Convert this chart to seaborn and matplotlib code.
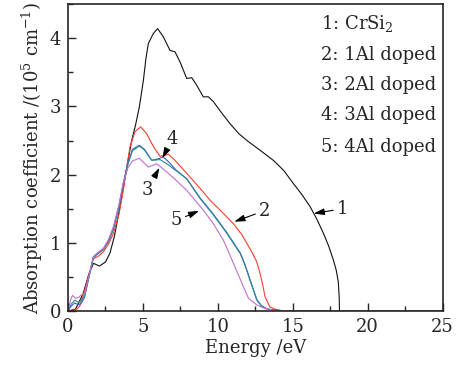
import numpy as np
import pandas as pd
import matplotlib
matplotlib.use("Agg")
import matplotlib.pyplot as plt
import seaborn as sns
from matplotlib.ticker import MultipleLocator

# curve 1: CrSi2
e1 = [0, 0.5, 1.0, 1.4, 1.7, 2.1, 2.5, 2.8, 3.1, 3.4, 3.7, 4.0, 4.25, 4.5, 4.76, 5.03, 5.2, 5.36,
      5.7, 5.98, 6.36, 6.81, 7.14, 7.48, 7.92, 8.26, 8.59, 9.03, 9.37, 9.7, 10.2, 10.8, 11.4,
      12.0, 12.8, 13.7, 14.4, 15.04, 15.6, 16.16, 16.6, 17.05, 17.4, 17.71, 17.9, 18.04, 18.1,
      18.12, 20, 25]
a1 = [0, 0.03, 0.25, 0.55, 0.70, 0.66, 0.72, 0.85, 1.10, 1.45, 1.82, 2.2, 2.50, 2.72, 2.99, 3.38, 3.70, 3.92,
      4.07, 4.14, 4.02, 3.82, 3.80, 3.65, 3.41, 3.42, 3.31, 3.14, 3.14, 3.07, 2.92, 2.75, 2.60,
      2.49, 2.36, 2.21, 2.06, 1.87, 1.71, 1.53, 1.35, 1.14, 0.95, 0.75, 0.60, 0.43, 0.2,
      0, 0, 0]

# curve 2: 1Al doped
e2 = [0, 0.3, 0.6, 0.8, 1.0, 1.3, 1.69, 2.0, 2.36, 2.7, 3.03, 3.4, 3.69, 3.9, 4.14, 4.47, 4.85, 5.25,
      5.70, 6.14, 6.45, 6.70, 7.14, 7.92, 8.81, 9.5, 10.15, 11.04, 11.6, 12.26, 12.6, 12.82, 13.0,
      13.15, 13.48, 13.8, 14.2, 15, 25]
a2 = [0, 0.01, 0.03, 0.08, 0.22, 0.45, 0.77, 0.80, 0.87, 0.98, 1.14, 1.42, 1.77, 2.08, 2.41, 2.63, 2.70, 2.60,
      2.41, 2.27, 2.28, 2.30, 2.21, 2.02, 1.80, 1.62, 1.48, 1.28, 1.12, 0.87, 0.72, 0.55, 0.38,
      0.21, 0.06, 0.03, 0.01, 0, 0]

# curve 3: 2Al doped
e3 = [0, 0.2, 0.45, 0.7, 0.9, 1.1, 1.4, 1.69, 2.0, 2.36, 2.7, 3.03, 3.4, 3.69, 4.0, 4.3, 4.76, 5.1,
      5.59, 6.14, 6.59, 7.2, 7.92, 8.81, 9.7, 10.6, 11.5, 11.8, 12.15, 12.6, 12.9, 13.3, 14.0, 15, 25]
a3 = [0, 0.10, 0.16, 0.13, 0.15, 0.22, 0.50, 0.78, 0.84, 0.90, 1.02, 1.20, 1.52, 1.86, 2.15, 2.35, 2.42, 2.36,
      2.21, 2.22, 2.16, 2.06, 1.94, 1.65, 1.41, 1.14, 0.84, 0.68, 0.45, 0.16, 0.08, 0.03, 0.01, 0, 0]

# curve 4: 3Al doped
e4 = [0, 0.2, 0.45, 0.7, 0.9, 1.1, 1.4, 1.69, 2.0, 2.36, 2.7, 3.03, 3.4, 3.69, 4.0, 4.3, 4.76, 5.1,
      5.59, 6.0, 6.35, 6.7, 7.2, 7.92, 8.81, 9.7, 10.6, 11.5, 11.8, 12.15, 12.6, 12.9, 13.3, 14.0, 15, 25]
a4 = [0, 0.07, 0.12, 0.09, 0.12, 0.20, 0.50, 0.79, 0.85, 0.91, 1.03, 1.21, 1.54, 1.88, 2.17, 2.37, 2.43, 2.37,
      2.21, 2.23, 2.26, 2.19, 2.07, 1.94, 1.66, 1.42, 1.15, 0.85, 0.69, 0.46, 0.17, 0.08, 0.03, 0.01, 0, 0]

# curve 5: 4Al doped
e5 = [0, 0.15, 0.3, 0.5, 0.7, 0.9, 1.1, 1.4, 1.69, 2.0, 2.36, 2.7, 3.03, 3.4, 3.69, 4.0, 4.3, 4.76,
      5.36, 5.92, 6.59, 7.2, 7.92, 9.03, 9.7, 10.37, 11.04, 11.7, 12.04, 12.6, 13.0, 13.7, 15, 25]
a5 = [0, 0.15, 0.23, 0.19, 0.20, 0.24, 0.25, 0.52, 0.80, 0.86, 0.92, 1.05, 1.24, 1.56, 1.88, 2.10, 2.20, 2.24,
      2.11, 2.16, 2.04, 1.92, 1.77, 1.48, 1.28, 1.04, 0.70, 0.36, 0.19, 0.09, 0.05, 0.01, 0, 0]

names = ["1", "2", "3", "4", "5"]
colors = {"1": "#111111", "2": "#ff3b2f", "3": "#2e8b8f", "4": "#3558c8", "5": "#c070d0"}
draw_order = ["1", "2", "4", "3", "5"]
legend_lines = ["1: CrSi$_2$", "2: 1Al doped", "3: 2Al doped", "4: 3Al doped", "5: 4Al doped"]

# arrow labels: (label, text x, text y, tip x, tip y)
labels = ["1", "2", "3", "4", "5"]
label_xy = [(18.3, 1.50), (13.1, 1.47), (5.3, 1.78), (6.95, 2.52), (7.25, 1.33)]
tip_xy = [(16.4, 1.43), (11.1, 1.31), (6.1, 2.10), (6.3, 2.24), (8.75, 1.47)]

frames = []
for n, e, a in zip(names, [e1, e2, e3, e4, e5], [a1, a2, a3, a4, a5]):
    frames.append(pd.DataFrame({"energy": e, "alpha": a, "curve": n}))
df = pd.concat(frames, ignore_index=True)

sns.set_style("ticks")
plt.rcParams["font.family"] = ["DejaVu Serif"]
plt.rcParams["mathtext.fontset"] = "dejavuserif"

fig = plt.figure(figsize=(4.7, 3.66), dpi=100)
ax = fig.add_axes([0.1447, 0.150, 0.797, 0.839])

sns.lineplot(data=df, x="energy", y="alpha", hue="curve", hue_order=draw_order,
             palette=colors, linewidth=0.8, legend=False, ax=ax, sort=False, estimator=None)

ax.set_xlim(0, 25)
ax.set_ylim(0, 4.5)
ax.xaxis.set_major_locator(MultipleLocator(5))
ax.xaxis.set_minor_locator(MultipleLocator(2.5))
ax.yaxis.set_major_locator(MultipleLocator(1))
ax.yaxis.set_minor_locator(MultipleLocator(0.5))
ax.tick_params(which="both", direction="in", labelsize=13, width=1.0)
ax.tick_params(which="major", length=6, pad=5)
ax.tick_params(which="minor", length=3.5)
for s in ax.spines.values():
    s.set_linewidth(1.2)

ax.set_xlabel("Energy /eV", fontsize=13, labelpad=2)
ax.set_ylabel("Absorption coefficient /(10$^5$ cm$^{-1}$)", fontsize=13, labelpad=3)

for lab, (tx, ty), (px, py) in zip(labels, label_xy, tip_xy):
    ax.annotate(lab, xy=(px, py), xytext=(tx, ty), fontsize=13, ha="center", va="center",
                arrowprops=dict(arrowstyle="-|>,head_length=0.7,head_width=0.22", color="k",
                                lw=0.8, mutation_scale=9, shrinkA=0, shrinkB=0))

ys = [4.22, 3.75, 3.31, 2.87, 2.40]
for txt, y in zip(legend_lines, ys):
    ax.text(16.9, y, txt, fontsize=13, ha="left", va="center")

fig.savefig("out.png", dpi=100)
